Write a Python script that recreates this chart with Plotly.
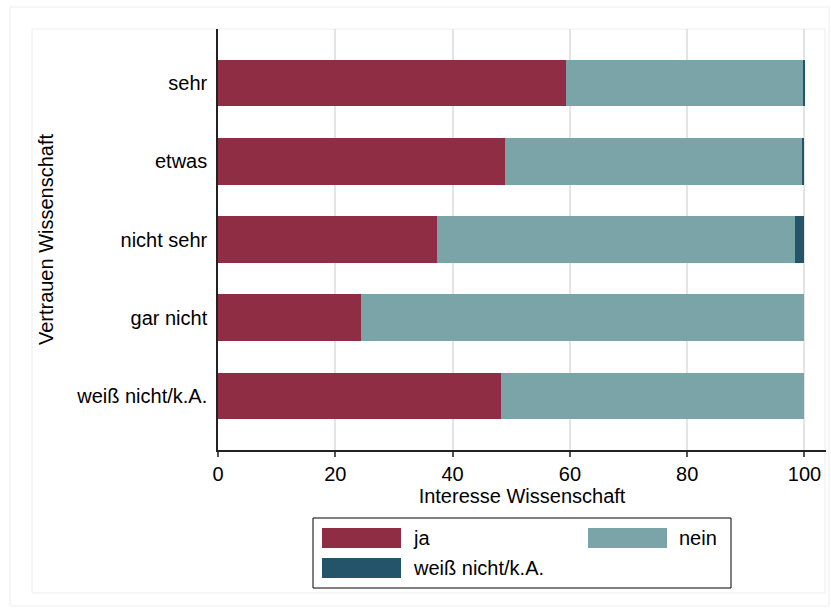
import plotly.graph_objects as go

categories = ["sehr", "etwas", "nicht sehr", "gar nicht", "weiß nicht/k.A."]
series_names = ["ja", "nein", "weiß nicht/k.A."]
ja = [59.3, 48.9, 37.3, 24.4, 48.3]
nein = [40.5, 50.7, 61.1, 75.6, 51.7]
weiss_nicht = [0.2, 0.4, 1.6, 0.0, 0.0]
x_ticks = [0, 20, 40, 60, 80, 100]
x_title = "Interesse Wissenschaft"
y_title = "Vertrauen Wissenschaft"

colors = ["#8e2d43", "#7aa4a7", "#235469"]
FONT = "Liberation Sans, Arial, Helvetica, sans-serif"
FS = 20

W, H = 831, 610
L, R, T, B = 218, 831 - 826, 29, 610 - 450
pw, ph = W - L - R, H - T - B

def px2x(px):
    return (px - L) / pw

def py2y(py):
    return (H - B - py) / ph

fig = go.Figure()
for name, vals, col in zip(series_names, [ja, nein, weiss_nicht], colors):
    fig.add_trace(go.Bar(
        y=categories, x=vals, name=name, orientation="h",
        marker=dict(color=col, line=dict(width=0)), width=0.6,
        showlegend=False,
    ))

fig.update_layout(
    width=W, height=H,
    margin=dict(l=L, r=R, t=T, b=B, pad=0),
    barmode="stack",
    paper_bgcolor="white", plot_bgcolor="white",
    font=dict(family=FONT, size=FS, color="black"),
    xaxis=dict(
        range=[0, 103.67], tickvals=x_ticks, ticks="outside", ticklen=5,
        tickcolor="#555", tickwidth=1.5,
        showgrid=True, gridcolor="#e4e4e4", gridwidth=1.5,
        zeroline=False, showline=True, linecolor="#222", linewidth=1.5,
        tickfont=dict(size=FS),
        title=dict(text=x_title, font=dict(size=FS), standoff=2),
    ),
    yaxis=dict(
        categoryorder="array", categoryarray=categories,
        range=[4.69, -0.69], ticks="", showgrid=False, zeroline=False,
        showline=True, linecolor="#222", linewidth=1.5,
        ticklabelstandoff=5, tickfont=dict(size=FS),
        title=dict(text=y_title, font=dict(size=FS), standoff=17),
    ),
)

shapes = []
# outer and inner graph region borders
shapes.append(dict(type="rect", xref="paper", yref="paper",
                   x0=px2x(10), x1=px2x(829), y0=py2y(606), y1=py2y(7),
                   line=dict(color="#eeeeee", width=1), fillcolor="rgba(0,0,0,0)", layer="below"))
shapes.append(dict(type="rect", xref="paper", yref="paper",
                   x0=px2x(32), x1=px2x(825), y0=py2y(593), y1=py2y(29),
                   line=dict(color="#eeeeee", width=1), fillcolor="rgba(0,0,0,0)", layer="below"))
# legend box
shapes.append(dict(type="rect", xref="paper", yref="paper",
                   x0=px2x(313), x1=px2x(731), y0=py2y(588), y1=py2y(518),
                   line=dict(color="black", width=1), fillcolor="white"))
legend_pos = [(322, 528), (588, 528), (322, 558)]
annotations = []
for (sx, sy), name, col in zip(legend_pos, series_names, colors):
    shapes.append(dict(type="rect", xref="paper", yref="paper",
                       x0=px2x(sx), x1=px2x(sx + 79), y0=py2y(sy + 20), y1=py2y(sy),
                       line=dict(width=0), fillcolor=col))
    annotations.append(dict(xref="paper", yref="paper", x=px2x(sx + 89), y=py2y(sy + 10),
                            text=name, showarrow=False, xanchor="left", yanchor="middle",
                            font=dict(size=FS, family=FONT, color="black")))

fig.update_layout(shapes=shapes, annotations=annotations)
fig.write_html("out.html", config={"displayModeBar": False},
               post_script="document.body.style.margin='0';")
